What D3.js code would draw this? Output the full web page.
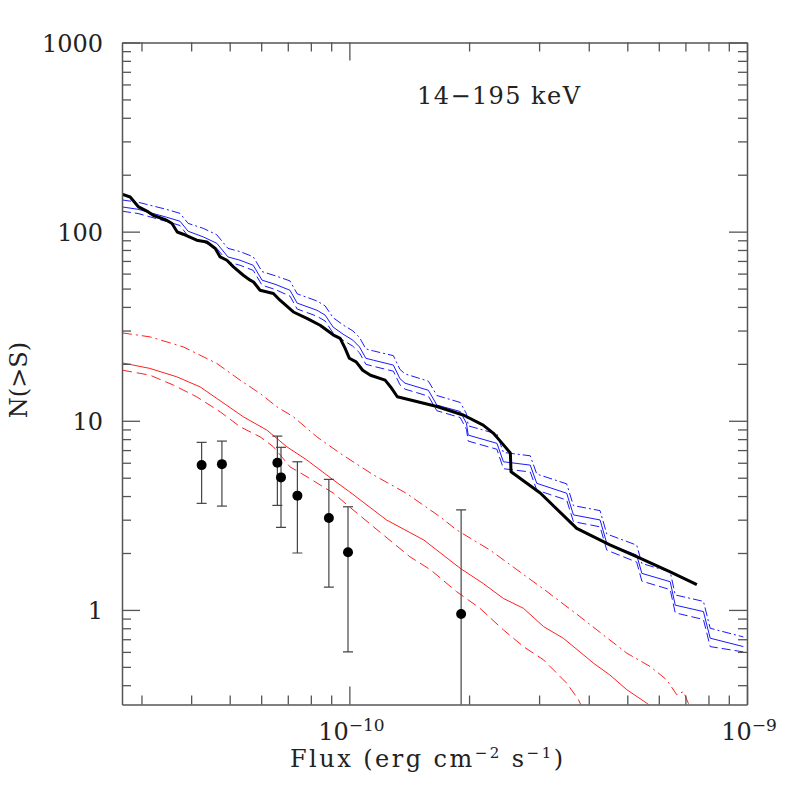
<!DOCTYPE html>
<html>
<head>
<meta charset="utf-8">
<script src="https://cdn.jsdelivr.net/npm/d3@7"></script>
<style>
html,body{margin:0;padding:0;background:#fff;}
svg{display:block;}
</style>
</head>
<body>
<div id="chart"></div>
<script>
// ---------- data ----------
// observed counts (thick black)
const blackFlux = [2.68e-11, 2.81e-11, 2.95e-11, 3.12e-11, 3.21e-11, 3.47e-11, 3.58e-11, 3.69e-11, 3.82e-11, 4.13e-11, 4.38e-11, 4.60e-11, 4.73e-11, 4.92e-11, 5.11e-11, 5.41e-11, 5.63e-11, 5.74e-11, 5.96e-11, 6.44e-11, 6.69e-11, 7.23e-11, 7.82e-11, 8.44e-11, 9.12e-11, 9.48e-11, 9.75e-11, 1.00e-10, 1.04e-10, 1.08e-10, 1.13e-10, 1.23e-10, 1.27e-10, 1.32e-10, 1.66e-10, 1.94e-10, 2.17e-10, 2.30e-10, 2.42e-10, 2.54e-10, 2.55e-10, 3.02e-10, 3.73e-10, 4.52e-10, 5.38e-10, 6.41e-10, 7.48e-10];
const blackN = [157.6, 152.5, 135.1, 127.1, 122.1, 114.9, 110.4, 99.6, 96.9, 90.1, 88.2, 81.4, 73.5, 70.6, 65.1, 58.8, 55.4, 54.2, 49.0, 47.1, 43.4, 37.6, 34.8, 32.0, 28.4, 27.3, 24.2, 21.4, 20.5, 18.5, 17.4, 16.4, 15.1, 13.4, 11.9, 10.7, 9.49, 8.61, 7.62, 6.75, 5.38, 4.15, 2.70, 2.21, 1.88, 1.59, 1.36];

// blue model curves
const blueFlux = [2.68e-11, 2.94e-11, 3.47e-11, 3.75e-11, 3.93e-11, 4.29e-11, 4.64e-11, 4.95e-11, 5.31e-11, 5.73e-11, 6.03e-11, 6.50e-11, 7.09e-11, 7.39e-11, 8.29e-11, 8.69e-11, 9.10e-11, 9.64e-11, 1.02e-10, 1.06e-10, 1.10e-10, 1.15e-10, 1.29e-10, 1.34e-10, 1.38e-10, 1.58e-10, 1.66e-10, 1.90e-10, 1.97e-10, 1.99e-10, 2.35e-10, 2.44e-10, 2.85e-10, 2.96e-10, 3.52e-10, 3.66e-10, 4.27e-10, 4.44e-10, 5.28e-10, 5.44e-10, 6.41e-10, 6.60e-10, 7.77e-10, 8.08e-10, 9.79e-10];
const blueMid = [135.1, 131.3, 119.2, 113.5, 100.5, 93.8, 86.8, 73.5, 70.6, 66.4, 55.4, 52.7, 49.0, 41.9, 38.4, 36.2, 31.3, 28.7, 26.7, 24.6, 21.4, 20.9, 19.7, 16.7, 15.8, 14.5, 12.1, 11.2, 9.69, 8.40, 7.60, 6.07, 5.83, 4.67, 4.14, 3.18, 2.99, 2.25, 1.95, 1.56, 1.41, 1.06, 0.98, 0.709, 0.640];
const blueLow = [128.3, 124.7, 113.2, 107.8, 94.5, 88.2, 81.6, 69.1, 66.4, 62.4, 52.1, 49.5, 45.6, 39.0, 35.7, 33.7, 29.1, 26.7, 24.8, 22.9, 19.9, 19.4, 18.3, 15.5, 14.7, 13.5, 11.3, 10.4, 9.01, 7.81, 7.07, 5.58, 5.36, 4.30, 3.81, 2.93, 2.75, 2.07, 1.79, 1.42, 1.28, 0.965, 0.89, 0.64, 0.60];
const blueHigh = [147.1, 143.1, 131.1, 124.9, 110.6, 104.1, 96.3, 81.6, 78.4, 73.7, 61.5, 58.5, 54.9, 46.9, 43.0, 40.5, 35.1, 32.1, 29.9, 27.6, 24.0, 23.4, 22.1, 18.7, 17.7, 16.2, 13.6, 12.5, 10.9, 9.41, 8.51, 6.80, 6.53, 5.23, 4.64, 3.56, 3.35, 2.52, 2.20, 1.76, 1.59, 1.20, 1.11, 0.80, 0.72];

// red model curves
const redMidFlux = [2.68e-11, 3.15e-11, 3.68e-11, 4.21e-11, 4.64e-11, 5.41e-11, 6.20e-11, 6.96e-11, 7.82e-11, 9.12e-11, 1.00e-10, 1.24e-10, 1.54e-10, 1.90e-10, 2.17e-10, 2.44e-10, 2.74e-10, 3.08e-10, 3.45e-10, 3.80e-10, 4.11e-10, 4.52e-10, 4.99e-10, 5.60e-10, 5.87e-10];
const redMidN = [20.25, 18.92, 17.08, 15.12, 13.13, 10.50, 8.93, 7.29, 6.20, 4.86, 4.22, 2.99, 2.34, 1.66, 1.38, 1.15, 1.02, 0.816, 0.709, 0.600, 0.523, 0.453, 0.378, 0.321, 0.296];
const redLowFlux = [2.68e-11, 3.15e-11, 3.61e-11, 4.13e-11, 4.73e-11, 5.31e-11, 5.96e-11, 6.44e-11, 7.09e-11, 7.82e-11, 9.12e-11, 1.00e-10, 1.15e-10, 1.42e-10, 1.60e-10, 1.86e-10, 2.13e-10, 2.44e-10, 2.74e-10, 3.08e-10, 3.52e-10, 3.77e-10, 3.87e-10];
const redLowN = [18.53, 17.43, 15.44, 13.39, 11.16, 9.30, 8.23, 7.29, 5.71, 5.06, 4.14, 3.51, 2.75, 1.91, 1.63, 1.25, 1.02, 0.784, 0.640, 0.544, 0.410, 0.335, 0.296];
const redHighFlux = [2.68e-11, 3.15e-11, 3.82e-11, 4.64e-11, 5.31e-11, 5.96e-11, 6.57e-11, 7.23e-11, 8.28e-11, 9.48e-11, 1.15e-10, 1.39e-10, 1.69e-10, 1.86e-10, 2.26e-10, 2.64e-10, 3.14e-10, 3.80e-10, 4.35e-10, 4.99e-10, 5.71e-10, 6.28e-10, 6.66e-10, 6.92e-10, 7.12e-10, 7.23e-10];
const redHighN = [29.17, 27.78, 24.60, 20.10, 16.41, 13.95, 11.86, 10.50, 8.23, 6.73, 5.17, 4.14, 3.11, 2.65, 2.07, 1.63, 1.25, 0.922, 0.738, 0.590, 0.502, 0.427, 0.356, 0.370, 0.321, 0.296];

// data points with error bars
const ptFlux = [4.25e-11, 4.78e-11, 6.59e-11, 6.73e-11, 7.40e-11, 8.88e-11, 9.92e-11, 1.91e-10];
const ptN = [5.83, 5.90, 6.00, 5.02, 4.02, 3.06, 2.02, 0.952];
const ptHi = [7.69, 7.81, 8.30, 7.24, 6.07, 4.90, 3.51, 3.38];
const ptLo = [3.66, 3.54, 3.57, 2.73, 2.00, 1.32, 0.600, 0.05];

// axes ticks / labels
const xMajorTicks = [1e-10, 1e-9];
const xMajorExp = ["\u221210", "\u22129"];
const xMinorTicks = [3e-11, 4e-11, 5e-11, 6e-11, 7e-11, 8e-11, 9e-11, 2e-10, 3e-10, 4e-10, 5e-10, 6e-10, 7e-10, 8e-10, 9e-10];
const yMajorTicks = [1, 10, 100, 1000];
const yMajorLabels = ["1", "10", "100", "1000"];
const yMinorTicks = [0.4, 0.5, 0.6, 0.7, 0.8, 0.9, 2, 3, 4, 5, 6, 7, 8, 9, 20, 30, 40, 50, 60, 70, 80, 90, 200, 300, 400, 500, 600, 700, 800, 900];
const titleText = "14\u2212195 keV";

// ---------- drawing ----------
const W = 789, H = 789;
const L = 122, R = 747, T = 42.5, B = 704.5;
const FONT = "'DejaVu Serif', serif";
const AX = "#555";

const svg = d3.select("#chart").append("svg").attr("width", W).attr("height", H);
const x = d3.scaleLog().domain([2.68e-11, 1e-9]).range([L, R]);
const y = d3.scaleLog().domain([Math.pow(10, -0.5), 1000]).range([B, T]);

svg.append("defs").append("clipPath").attr("id", "clip")
  .append("rect").attr("x", L).attr("y", T).attr("width", R - L).attr("height", B - T);

const plot = svg.append("g").attr("clip-path", "url(#clip)");
const line = d3.line().x(d => x(d[0])).y(d => y(d[1]));
const zip = (a, b) => a.map((v, i) => [v, b[i]]);

function drawLine(data, color, width, dash) {
  plot.append("path").datum(data)
    .attr("d", line).attr("fill", "none")
    .attr("stroke", color).attr("stroke-width", width)
    .attr("stroke-linejoin", "round")
    .attr("stroke-dasharray", dash || null);
}

const RED = "#ff2020", BLUE = "#1a1aff";
drawLine(zip(redHighFlux, redHighN), RED, 1, "10,4,2,4");
drawLine(zip(redMidFlux, redMidN), RED, 1, null);
drawLine(zip(redLowFlux, redLowN), RED, 1, "10,5");

drawLine(zip(blueFlux, blueHigh), BLUE, 1, "9,3,2,3");
drawLine(zip(blueFlux, blueMid), BLUE, 1, null);
drawLine(zip(blueFlux, blueLow), BLUE, 1, "9,4");

drawLine(zip(blackFlux, blackN), "#000", 3, null);

// error bars and points
const pts = ptFlux.map((f, i) => ({f, n: ptN[i], hi: ptHi[i], lo: ptLo[i]}));
const eb = plot.append("g").attr("stroke", "#444").attr("stroke-width", 1.2);
pts.forEach(p => {
  const cx = x(p.f);
  eb.append("line").attr("x1", cx).attr("x2", cx).attr("y1", y(p.hi)).attr("y2", y(p.lo));
  eb.append("line").attr("x1", cx - 5).attr("x2", cx + 5).attr("y1", y(p.hi)).attr("y2", y(p.hi));
  eb.append("line").attr("x1", cx - 5).attr("x2", cx + 5).attr("y1", y(p.lo)).attr("y2", y(p.lo));
});
plot.append("g").selectAll("circle").data(pts).join("circle")
  .attr("cx", d => x(d.f)).attr("cy", d => y(d.n)).attr("r", 5).attr("fill", "#000");

// axes (ticks inward on all four sides)
function styleAxis(g, keepDomain) {
  g.selectAll(".tick line").attr("stroke", AX).attr("stroke-width", 1.3);
  if (keepDomain) g.select(".domain").attr("stroke", AX).attr("stroke-width", 1.5);
  else g.select(".domain").remove();
  g.selectAll(".tick text").remove();
}
const axes = svg.append("g");
[[d3.axisBottom, B], [d3.axisTop, T]].forEach(([fn, pos]) => {
  axes.append("g").attr("transform", `translate(0,${pos})`)
    .call(fn(x).tickValues(xMajorTicks).tickSize(-18).tickSizeOuter(0).tickFormat(() => ""))
    .call(g => styleAxis(g, true));
  axes.append("g").attr("transform", `translate(0,${pos})`)
    .call(fn(x).tickValues(xMinorTicks).tickSize(-9).tickSizeOuter(0).tickFormat(() => ""))
    .call(g => styleAxis(g, false));
});
[[d3.axisLeft, L], [d3.axisRight, R]].forEach(([fn, pos]) => {
  axes.append("g").attr("transform", `translate(${pos},0)`)
    .call(fn(y).tickValues(yMajorTicks).tickSize(-18).tickSizeOuter(0).tickFormat(() => ""))
    .call(g => styleAxis(g, true));
  axes.append("g").attr("transform", `translate(${pos},0)`)
    .call(fn(y).tickValues(yMinorTicks).tickSize(-9).tickSizeOuter(0).tickFormat(() => ""))
    .call(g => styleAxis(g, false));
});

// tick labels
const TXT = "#222";
svg.append("g").selectAll("text").data(yMajorTicks).join("text")
  .attr("x", 103).attr("y", d => y(d) + 9)
  .attr("text-anchor", "end").attr("font-family", FONT).attr("font-size", 24)
  .attr("fill", TXT).text((d, i) => yMajorLabels[i]);

xMajorTicks.forEach((v, i) => {
  const t = svg.append("text").attr("x", x(v) + 2).attr("y", 740)
    .attr("text-anchor", "middle").attr("font-family", FONT).attr("fill", TXT);
  t.append("tspan").attr("font-size", 24).text("10");
  t.append("tspan").attr("font-size", 17).attr("dy", -9).text(xMajorExp[i]);
});

// axis titles
const xl = svg.append("text").attr("x", 290).attr("y", 766.5)
  .attr("font-family", FONT).attr("fill", TXT)
  .attr("font-size", 24).attr("textLength", 273).attr("lengthAdjust", "spacing");
xl.append("tspan").text("Flux (erg cm");
xl.append("tspan").attr("font-size", 15).attr("dy", -9).text("\u22122");
xl.append("tspan").attr("dy", 9).text(" s");
xl.append("tspan").attr("font-size", 15).attr("dy", -9).text("\u22121");
xl.append("tspan").attr("dy", 9).text(")");

svg.append("text").attr("transform", "translate(27,380) rotate(-90)")
  .attr("text-anchor", "middle").attr("font-family", FONT).attr("font-size", 24)
  .attr("fill", TXT).text("N(>S)");

svg.append("text").attr("x", 417).attr("y", 103.5)
  .attr("font-family", FONT).attr("font-size", 24).attr("fill", TXT)
  .attr("textLength", 163).attr("lengthAdjust", "spacing")
  .text(titleText);
</script>
</body>
</html>
